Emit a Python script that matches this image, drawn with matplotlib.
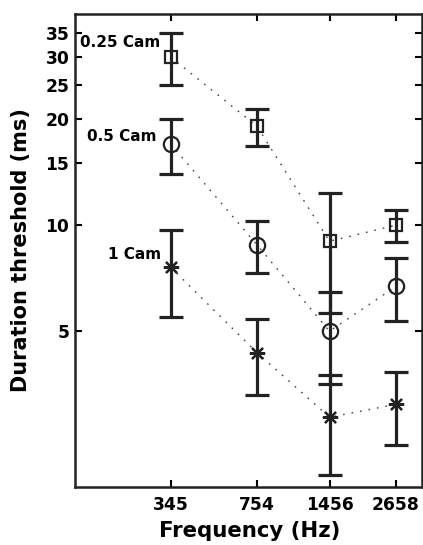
import numpy as np
import matplotlib.pyplot as plt

plt.rcParams['font.family'] = ['DejaVu Sans']
plt.rcParams['font.weight'] = 'bold'

freqs = [345, 754, 1456, 2658]

# 0.25 Cam (squares)
thr_q = [30.0, 19.1, 9.0, 10.0]
err_q = [5.0, 2.3, 3.35, 1.05]
# 0.5 Cam (circles)
thr_h = [17.0, 8.8, 5.0, 6.7]
err_h = [3.0, 1.5, 1.47, 1.37]
# 1 Cam (asterisks)
thr_1 = [7.6, 4.35, 2.85, 3.1]
err_1 = [2.1, 1.06, 0.9, 0.72]

yticks = [5, 10, 15, 20, 25, 30, 35]

fig = plt.figure(figsize=(4.23, 5.45), dpi=100)
ax = fig.add_axes([0.177, 0.107, 0.821, 0.867])

ax.set_xscale('log')
ax.set_yscale('log')

series = [(thr_q, err_q, 's', 8.5), (thr_h, err_h, 'o', 11), (thr_1, err_1, (8, 2, 0), 11)]
for thr, err, mk, ms in series:
    ax.plot(freqs, thr, linestyle=(0, (1.2, 5)), color='#444444', lw=1.0, zorder=1)
    ax.errorbar(freqs, thr, yerr=err, fmt='none', ecolor='#222222',
                elinewidth=2.3, capsize=8.5, capthick=2.3, zorder=2)
    ax.plot(freqs, thr, linestyle='none', marker=mk, ms=ms, mfc='none',
            mec='#222222', mew=1.6, zorder=3)

ax.text(313, 32.9, '0.25 Cam', ha='right', va='center', fontsize=11, fontweight='bold')
ax.text(304, 17.8, '0.5 Cam', ha='right', va='center', fontsize=11, fontweight='bold')
ax.text(316, 8.27, '1 Cam', ha='right', va='center', fontsize=11, fontweight='bold')

ax.set_xlim(145, 3370)
ax.set_ylim(1.81, 39.7)
ax.set_xticks(freqs)
ax.set_xticklabels([str(f) for f in freqs])
ax.set_yticks(yticks)
ax.set_yticklabels([str(t) for t in yticks])
ax.minorticks_off()

ax.tick_params(direction='in', length=5, width=1.5, top=True, right=True,
               labelsize=12.3)
ax.tick_params(axis='y', pad=4)
ax.tick_params(axis='x', pad=7)
for s in ax.spines.values():
    s.set_linewidth(1.8)
    s.set_color('#222222')

fig.text(249.5 / 423, 1 - 537 / 545, 'Frequency (Hz)', ha='center', va='baseline',
         fontsize=15.3, fontweight='bold')
fig.text(21 / 423, 1 - 250 / 545, 'Duration threshold (ms)', ha='center', va='center',
         rotation=90, fontsize=15, fontweight='bold')

fig.savefig('out.png', dpi=100)
